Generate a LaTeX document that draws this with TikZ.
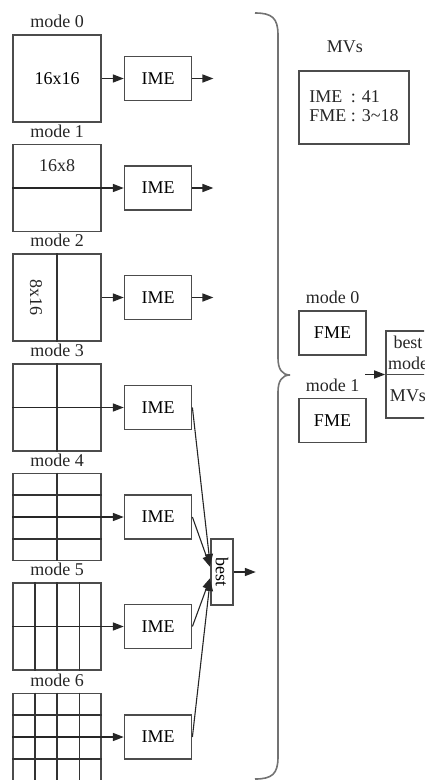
\documentclass[tikz,border=0pt]{standalone}
\usepackage{fontspec}
\setmainfont{Liberation Serif}
\usetikzlibrary{arrows.meta,positioning,calc}
\newcommand\lbl{\fontsize{18}{21}\selectfont}
\tikzset{
  blk/.style={draw=black!70,line width=1.6pt,minimum width=88pt,minimum height=87pt,
              inner sep=0pt,font=\lbl},
  me/.style={draw=black!70,line width=1.6pt,minimum width=67pt,minimum height=44pt,
             inner sep=0pt,font=\lbl},
  modelbl/.style={font=\lbl,inner sep=0pt,text=black!85},
  partline/.style={line width=1.8pt,black!80},
  arr/.style={-{Triangle[length=11pt,width=8pt]},line width=1.6pt,black!85},
  thinarr/.style={-{Triangle[length=11pt,width=8pt]},line width=1.1pt,black!85},
  bracket/.style={line width=1.6pt,black!55},
}
\begin{document}
\begin{tikzpicture}[x=1pt,y=1pt]
  \useasboundingbox (0,0) rectangle (424,-780);
  \clip (0,0) rectangle (424,-780);

  % partition blocks
  \node[blk] (blk0) at (57,-78.5) {16x16};
  \node[blk] (blk1) at (57,-188) {};
  \node[blk] (blk2) at (57,-297.5) {};
  \node[blk] (blk3) at (57,-407.5) {};
  \node[blk] (blk4) at (57,-517) {};
  \node[blk] (blk5) at (57,-626.5) {};
  \node[blk] (blk6) at (57,-737) {};
  \foreach \i in {0,...,6}
    \node[modelbl,above=6pt of blk\i] (mlbl\i) {mode \i};

  \node[modelbl] (t1) at (57,-166) {16x8};
  \node[modelbl] (t2) at (36,-297.5) {\rotatebox{-90}{8x16}};

  % inner split lines
  \draw[partline] (blk2.north) -- (blk2.south);
  \draw[partline] (blk3.north) -- (blk3.south);
  \draw[partline] (blk4.north) -- (blk4.south);
  \foreach \f in {0.25,0.75}{
    \draw[partline] ($(blk4.north west)!\f!(blk4.south west)$) -- ($(blk4.north east)!\f!(blk4.south east)$);
    \draw[partline] ($(blk5.north west)!\f!(blk5.north east)$) -- ($(blk5.south west)!\f!(blk5.south east)$);
    \draw[partline] ($(blk6.north west)!\f!(blk6.south west)$) -- ($(blk6.north east)!\f!(blk6.south east)$);
    \draw[partline] ($(blk6.north west)!\f!(blk6.north east)$) -- ($(blk6.south west)!\f!(blk6.south east)$);
  }
  \draw[partline] (blk5.north) -- (blk5.south);
  \draw[partline] (blk6.north) -- (blk6.south);

  % integer ME
  \foreach \i in {0,...,6}
    \node[me,right=22pt of blk\i] (ime\i) {IME};

  \draw[arr] (blk0.east) -- (ime0.west);
  \draw[arr] (blk1.west) -- (ime1.west);
  \draw[arr] (blk2.east) -- (ime2.west);
  \draw[arr] (blk3.west) -- (ime3.west);
  \draw[arr] (blk4.west) -- (ime4.west);
  \draw[arr] (blk5.west) -- (ime5.west);
  \draw[arr] (blk6.west) -- (ime6.west);

  \foreach \i in {0,1,2}{
    \coordinate (out\i) at ($(ime\i.east)+(21,0)$);
    \draw[arr] (ime\i.east) -- (out\i);
  }

  \node[draw=black!70,line width=1.6pt,minimum width=22pt,minimum height=66pt,inner sep=0pt,
        font=\lbl] (best) at (222,-572) {\rotatebox{-90}{best}};
  \draw[thinarr] (ime3.east) -- ($(best.west)+(0,7)$);
  \draw[thinarr] (ime4.east) -- ($(best.west)+(0,5)$);
  \draw[thinarr] (ime5.east) -- ($(best.west)+(0,-6)$);
  \draw[thinarr] (ime6.east) -- ($(best.west)+(0,-8)$);
  \coordinate (bestout) at ($(best.east)+(22,0)$);
  \draw[arr] (best.east) -- (bestout);

  % brace
  \draw[bracket] (255,-13) .. controls (272,-13) and (278,-18) .. (278,-35)
    -- (278,-358) .. controls (278,-369) and (282,-375) .. (290,-375)
    .. controls (282,-375) and (278,-381) .. (278,-392)
    -- (278,-757) .. controls (278,-774) and (272,-779) .. (255,-779);

  % fractional ME side
  \node[modelbl] (mvlbl) at (345,-47) {MVs};
  \node[draw=black!70,line width=1.6pt,minimum width=110pt,minimum height=73pt,inner sep=1pt,
        font=\lbl,text=black!85] (mvbox) at (354,-107.5)
    {\begin{tabular}{@{}l@{ }l@{}}IME & : 41\\[-2pt] FME & : 3\textasciitilde18\end{tabular}};

  \node[me] (fme0) at (332.5,-333) {FME};
  \node[me] (fme1) at (332.5,-420.5) {FME};
  \node[modelbl,above=6pt of fme0] (flbl0) {mode 0};
  \node[modelbl,above=6pt of fme1] (flbl1) {mode 1};

  \node[draw=black!70,line width=1.6pt,minimum width=44pt,minimum height=87pt,inner sep=0pt]
    (bm) at (408,-374.5) {};
  \draw[line width=1.6pt,black!70] (bm.west) -- (bm.east);
  \node[modelbl,align=center] (bmtop) at ($(bm.center)+(0,21.5)$) {best\\mode};
  \node[modelbl] (bmbot) at ($(bm.center)+(0,-21)$) {MVs};
  \coordinate (bmin) at (365,-374.5);
  \draw[arr] (bmin) -- (bm.west);
\end{tikzpicture}
\end{document}
